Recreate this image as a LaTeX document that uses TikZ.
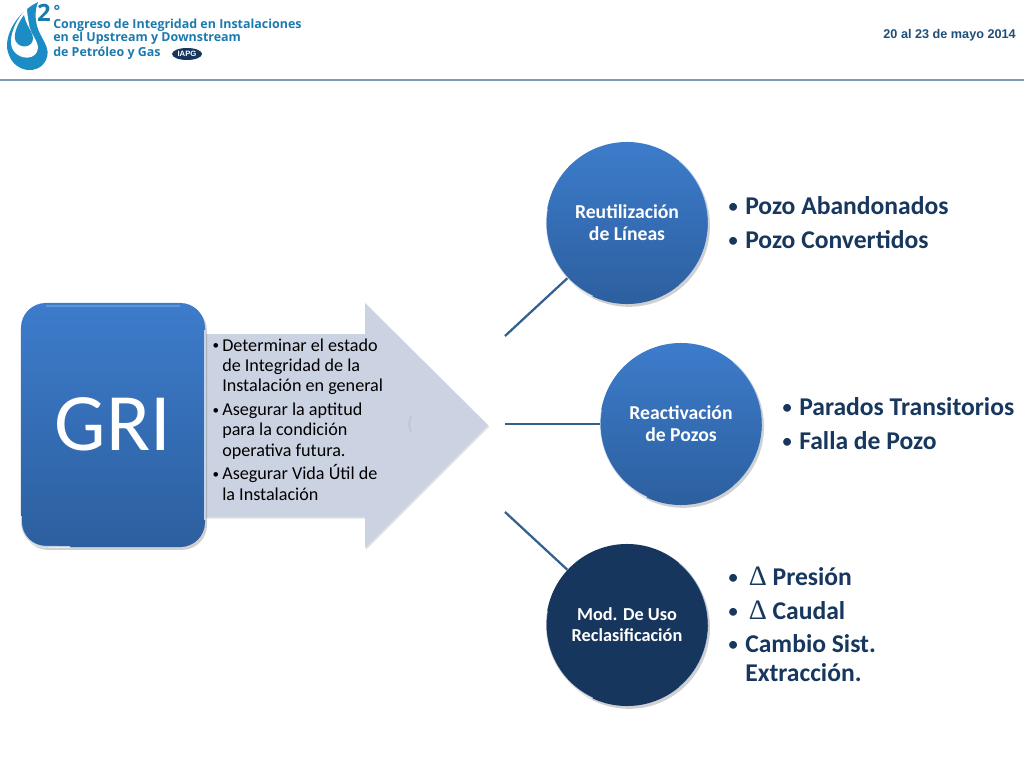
\documentclass[tikz,border=0pt]{standalone}
\usepackage{fontspec}
\setmainfont{Carlito}
\newfontfamily\logofont{Open Sans}
\newfontfamily\datefont{Liberation Sans}
\newfontfamily\deltafont{Liberation Serif}
\usetikzlibrary{positioning,calc,shadows,shapes.geometric}
\definecolor{ink}{HTML}{17375E}
\definecolor{bluetop}{HTML}{3D7CCB}
\definecolor{bluelow}{HTML}{2C5F9F}
\definecolor{rim}{HTML}{BFD6F0}
\definecolor{navy}{HTML}{17365D}
\definecolor{arrowc}{HTML}{CBD2E2}
\definecolor{linkc}{HTML}{34608F}
\definecolor{logoc}{HTML}{1C8CC4}
\definecolor{logot}{HTML}{1B7AAE}
\definecolor{rule}{HTML}{7C9CBC}
\definecolor{datec}{HTML}{1F4E79}
\newcommand{\bul}[2][12.8pt]{\par\hangindent=#1\hangafter=1\noindent\hbox to #1{\hspace{1pt}\scalebox{0.72}{\raisebox{0.12em}{\textbullet}}\hfil}#2\par}
\newcommand{\dlt}{{\deltafont\mdseries\fontsize{20}{20}\selectfont\symbol{"0394}}}

\begin{document}
\begin{tikzpicture}[
  x=0.025cm,y=-0.025cm,
  soft/.style={drop shadow={shadow xshift=0.5mm,shadow yshift=-0.7mm,opacity=0.3,fill=black!60}},
  disc/.style={circle,minimum size=4.05cm,inner sep=0pt,align=center,text=white,soft,
               font=\fontsize{14}{15.6}\selectfont\bfseries},
  bluedisc/.style={disc,top color=bluetop,bottom color=bluelow},
  darkdisc/.style={disc,fill=navy,font=\fontsize{13}{15}\selectfont\bfseries},
  link/.style={linkc,line width=1.6pt},
  bigitem/.style={anchor=north west,inner sep=0pt,text=ink,text width=7.5cm,align=flush left,
                  font=\fontsize{18.2}{20.6}\selectfont\bfseries},
  logoline/.style={anchor=base west,text=logot,inner sep=0pt,
                   font=\logofont\fontsize{8.85}{9}\selectfont\bfseries},
]
\useasboundingbox (0,0) rectangle (1024,768);

% header
\fill[white] (0,0) rectangle (1024,768);
\draw[rule,line width=1pt] (0,80) -- (1024,80);
\node[anchor=east,text=datec,inner sep=0pt,font=\datefont\fontsize{9}{11}\selectfont\bfseries] (fecha)
  at (1016,35.5) {20 al 23 de mayo 2014};

% logo drop
\fill[logoc] (38,2) .. controls (14,14) and (2,40) .. (9,55)
  .. controls (15,72) and (38,76) .. (46,60)
  .. controls (52,48) and (40,38) .. (37,26)
  .. controls (35,18) and (35,10) .. (38,2) -- cycle;
\fill[white] (27,8) .. controls (12,24) and (8,42) .. (13,50)
  .. controls (20,61) and (37,60) .. (38,48)
  .. controls (38,40) and (30,34) .. (29,24)
  .. controls (28,18) and (27,13) .. (27,8) -- cycle;
\fill[logoc] (24,15) .. controls (16,26) and (12,38) .. (17,43)
  .. controls (22,49) and (33,47) .. (33,38)
  .. controls (32,30) and (26,26) .. (24,15) -- cycle;
\node[anchor=base,text=logot,inner sep=0pt,font=\logofont\fontsize{17}{17}\selectfont\bfseries] (dos)
  at (44,22) {2};
\node[anchor=base,text=logot,inner sep=0pt,font=\logofont\fontsize{11}{11}\selectfont\bfseries] (grado)
  at (57,16.5) {°};
\node[logoline] (logoa) at (53,29) {Congreso de Integridad en Instalaciones};
\node[logoline] (logob) at (53,42) {en el Upstream y Downstream};
\node[logoline] (logoc) at (53,57) {de Petróleo y Gas};
\node[ellipse,fill=navy,text=white,minimum width=0.75cm,minimum height=0.3cm,inner sep=0pt,
      font=\datefont\fontsize{5.5}{5.5}\selectfont\bfseries] (iapg) at (187,54) {IAPG};

% arrow
\fill[arrowc,drop shadow={shadow xshift=0.3mm,shadow yshift=-0.4mm,opacity=0.2,fill=black!60}]
  (205,334) -- (365,334) -- (365,303) -- (488,425) -- (365,548) -- (365,517) -- (205,517) -- cycle;
\node[text=arrowc!92!black,inner sep=0pt,font=\fontsize{14}{16}\selectfont] (marca) at (410,425) {(};
\node[anchor=north west,inner sep=0pt,text=black,text width=4.6cm,align=flush left,
      font=\fontsize{12.9}{14.4}\selectfont] (puntos) at (211,327) {\setlength{\parskip}{2.6pt}%
  \bul[7.8pt]{Determinar el estado\newline de Integridad de la\newline Instalación en general}
  \bul[7.8pt]{Asegurar la aptitud\newline para la condición\newline operativa futura.}
  \bul[7.8pt]{Asegurar Vida Útil de\newline la Instalación}};

% GRI block
\node[rounded corners=0.62cm,minimum width=4.6cm,minimum height=6.1cm,inner sep=0pt,
      top color=bluetop,bottom color=bluelow,text=white,soft,
      font=\fontsize{58}{60}\selectfont] (gri) at (113,425) {\raisebox{2pt}{GRI}};
\draw[rim,line width=1pt] (205,330) -- (205,520);
\draw[white,opacity=0.7,line width=1.3pt] (21,516) -- (21,522) arc[start angle=180,end angle=270,radius=0.62cm] -- (70,547);
\draw[white,opacity=0.18,line width=1.4pt] (46,306) -- (180,306);

% discs
\node[bluedisc] (reuso) at (627,223) {Reutilización\\de Líneas};
\node[bluedisc] (pozos) at (681,424) {Reactivación\\de Pozos};
\node[darkdisc] (clase) at (627,625) {Mod. De Uso\\Reclasificación};
\foreach \n in {reuso,pozos,clase}{
  \draw[white,opacity=0.7,line width=1.2pt] (\n.170) arc[start angle=170,end angle=245,radius=2.025cm];
  \draw[rim,opacity=0.6,line width=0.6pt] (\n.-50) arc[start angle=-50,end angle=50,radius=2.025cm];
}

% connectors
\coordinate (desde1) at (505,336);
\coordinate (desde2) at (505,424);
\coordinate (desde3) at (505,512);
\draw[link] (desde1) -- (reuso);
\draw[link] (desde2) -- (pozos);
\draw[link] (desde3) -- (clase);

% lists
\node[bigitem] (listaa) at (727,181) {\setlength{\parskip}{3.2pt}%
  \bul{Pozo Abandonados}
  \bul{Pozo Convertidos}};
\node[bigitem] (listab) at (781,382) {\setlength{\parskip}{3.2pt}%
  \bul{Parados Transitorios}
  \bul{Falla de Pozo}};
\node[bigitem] (listac) at (727,552) {\setlength{\parskip}{3.2pt}%
  \bul{\hspace{2.5pt}\dlt{} Presión}
  \bul{\hspace{2.5pt}\dlt{} Caudal}
  \bul{Cambio Sist.\newline Extracción.}};
\end{tikzpicture}
\end{document}
